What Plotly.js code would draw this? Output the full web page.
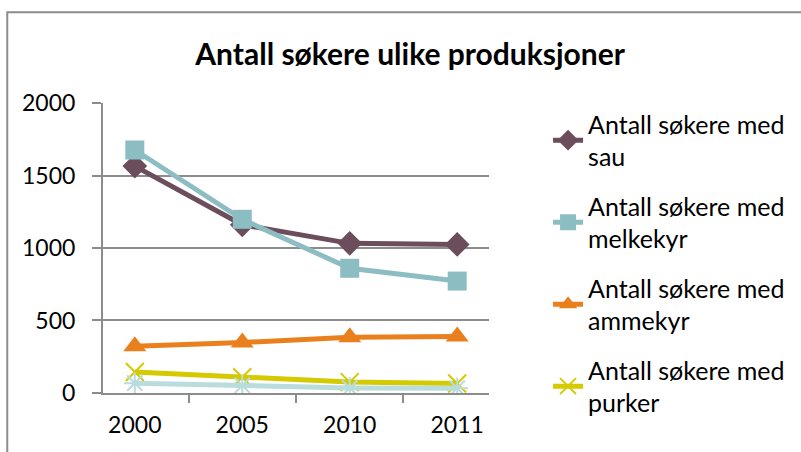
<!DOCTYPE html>
<html>
<head>
<meta charset="utf-8">
<script src="https://cdn.plot.ly/plotly-3.0.1.min.js"></script>
<style>
  body { margin: 0; background: #fff; }
  #plot { width: 801px; height: 452px; }
</style>
</head>
<body>
<div id="plot"></div>
<script>
// categories (years)
let years = ["2000", "2005", "2010", "2011"];

// series values
let sau = [1565, 1160, 1032, 1025];
let melkekyr = [1676, 1198, 860, 772];
let ammekyr = [322, 348, 385, 390];
let purker = [145, 108, 75, 65];
let annet = [68, 52, 35, 33];

let yTicks = [0, 500, 1000, 1500, 2000];

let fontName = "Lato, 'Open Sans', sans-serif";

let trace1 = {
  x: years, y: sau,
  name: 'Antall søkere med<br>sau',
  type: 'scatter', mode: 'lines+markers',
  line: {color: '#6b4d5c', width: 5},
  marker: {symbol: 'diamond', size: 19, color: '#6b4d5c'},
  legendgroup: 'a'
};

let trace2 = {
  x: years, y: melkekyr,
  name: 'Antall søkere med<br>melkekyr',
  type: 'scatter', mode: 'lines+markers',
  line: {color: '#8bbdc3', width: 5},
  marker: {symbol: 'square', size: 19, color: '#8bbdc3'},
  legendgroup: 'b'
};

let trace3 = {
  x: years, y: ammekyr,
  name: 'Antall søkere med<br>ammekyr',
  type: 'scatter', mode: 'lines+markers',
  line: {color: '#e9801d', width: 5},
  marker: {symbol: 'triangle-up', size: 20, color: '#e9801d'},
  legendgroup: 'c'
};

let trace4 = {
  x: years, y: purker,
  name: 'Antall søkere med<br>purker',
  type: 'scatter', mode: 'lines+markers',
  line: {color: '#d5c900', width: 5},
  marker: {symbol: 'x-thin-open', size: 18, color: '#d5c900', line: {width: 2, color: '#d5c900'}},
  legendgroup: 'd'
};

// fifth series, its legend entry is cut off in the picture
let trace5 = {
  x: years, y: annet,
  name: 'Antall søkere med<br>annet',
  type: 'scatter', mode: 'lines+markers',
  line: {color: '#b9dcdd', width: 5},
  marker: {symbol: 'asterisk-open', size: 18, color: '#b9dcdd', line: {width: 2, color: '#b9dcdd'}},
  showlegend: false
};

let data = [trace1, trace2, trace3, trace4, trace5];

// small top/bottom margins so the legend has room; the y domain puts the axis back in place
let layout = {
  width: 801,
  height: 452,
  margin: {l: 103, r: 311, t: 20, b: 20},
  paper_bgcolor: '#ffffff',
  plot_bgcolor: '#ffffff',
  font: {family: fontName, size: 25, color: '#000'},
  title: {
    text: '<b>Antall søkere ulike produksjoner</b>',
    font: {family: fontName, size: 30, color: '#000'},
    x: 0.512, xanchor: 'center',
    y: 0.88, yanchor: 'middle'
  },
  xaxis: {
    type: 'category',
    showgrid: false,
    showline: true, linecolor: '#8c8c8c', linewidth: 2,
    ticks: 'outside', tickson: 'boundaries', ticklen: 8, tickcolor: '#8c8c8c', tickwidth: 2,
    ticklabelstandoff: 10,
    tickfont: {family: fontName, size: 23}
  },
  yaxis: {
    domain: [0.0947, 0.7985],
    range: [0, 2000],
    tickvals: yTicks,
    showgrid: true, gridcolor: '#8c8c8c', gridwidth: 2,
    zeroline: false,
    showline: true, linecolor: '#8c8c8c', linewidth: 2,
    ticks: 'outside', ticklen: 9, tickcolor: '#8c8c8c', tickwidth: 2,
    ticklabelstandoff: 12,
    tickfont: {family: fontName, size: 23}
  },
  legend: {
    x: 1.15, xanchor: 'left',
    y: 0.803, yanchor: 'top',
    font: {family: fontName, size: 25},
    tracegroupgap: 14,
    bgcolor: 'rgba(0,0,0,0)'
  },
  shapes: [{
    type: 'rect', xref: 'paper', yref: 'paper',
    x0: -0.248, x1: 1.83, y0: -0.06, y1: 1.019,
    line: {color: '#8c8c8c', width: 2},
    layer: 'below'
  }]
};

Plotly.newPlot('plot', data, layout, {displayModeBar: false});
</script>
</body>
</html>
